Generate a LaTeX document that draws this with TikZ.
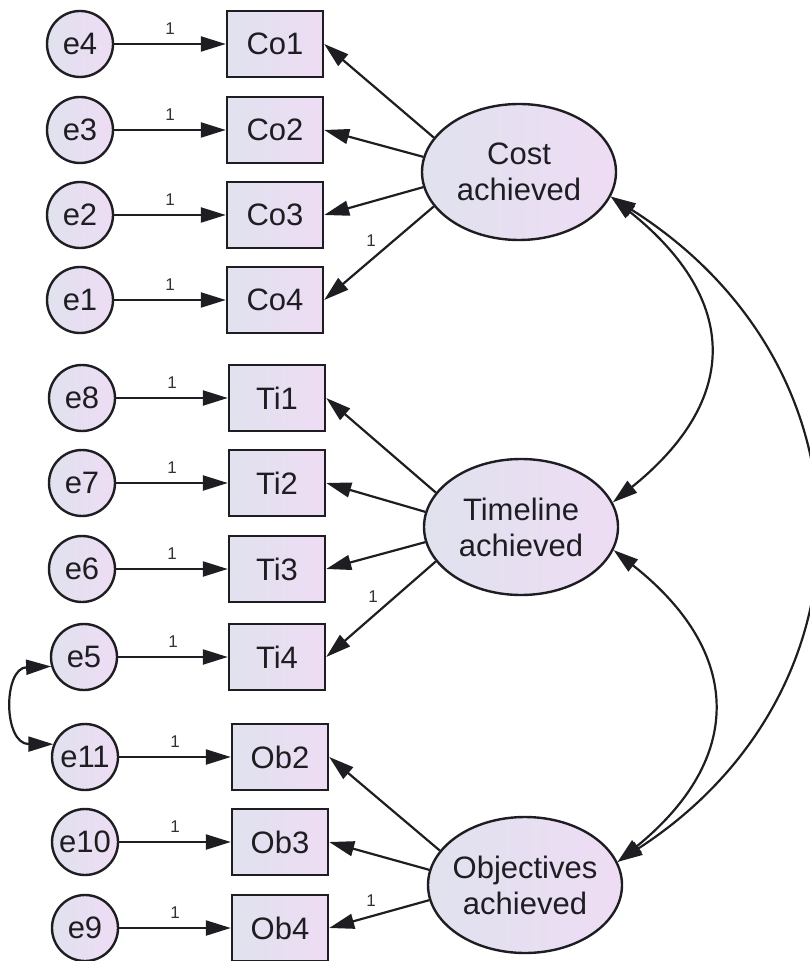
\documentclass[tikz,border=0pt]{standalone}
\usepackage{fontspec}
\setmainfont{Liberation Sans}
\usetikzlibrary{shapes.geometric,arrows.meta}
\definecolor{fillL}{RGB}{224,226,238}
\definecolor{fillR}{RGB}{238,220,244}
\definecolor{ink}{RGB}{30,30,34}
\definecolor{wtcol}{RGB}{50,50,50}

\begin{document}
\begin{tikzpicture}[x=0.5pt,y=-0.5pt,
  base/.style={draw=ink, line width=1.2pt, left color=fillL, right color=fillR,
    text=ink, font=\fontsize{15.5}{18}\selectfont},
  errvar/.style={base, circle, minimum size=33pt, inner sep=0pt},
  obsvar/.style={base, rectangle, minimum width=48pt, minimum height=33pt, inner sep=0pt},
  latent/.style={base, ellipse, minimum width=97pt, minimum height=68pt, inner sep=0pt},
  lattext/.style={align=center, text=ink, inner sep=0pt,
    font=\fontsize{15.5}{18}\selectfont},
  regpath/.style={draw=ink, line width=1.1pt, -{Triangle[length=12.5pt,width=7.5pt]}},
  covar/.style={draw=ink, line width=1.1pt,
    {Triangle[length=12.5pt,width=7.5pt]}-{Triangle[length=12.5pt,width=7.5pt]}},
  wt/.style={font=\fontsize{8.5}{9}\selectfont, text=wtcol, inner sep=0pt},
  wtup/.style={wt, midway, above=4pt},
  wtload/.style={wt, pos=0.5, xshift=-4pt, yshift=6.5pt}
]
\useasboundingbox (0,0) rectangle (809,961);

% error terms
\node[errvar] (e4)  at (80,44)  {e4};
\node[errvar] (e3)  at (80,130) {e3};
\node[errvar] (e2)  at (80,215) {e2};
\node[errvar] (e1)  at (80,300) {e1};
\node[errvar] (e8)  at (82,398) {e8};
\node[errvar] (e7)  at (82,483) {e7};
\node[errvar] (e6)  at (82,569) {e6};
\node[errvar] (e5)  at (84,657) {e5};
\node[errvar] (e11) at (85,757) {e11};
\node[errvar] (e10) at (85,842) {e10};
\node[errvar] (e9)  at (85,928) {e9};

% observed indicators
\node[obsvar] (co1) at (275,44)  {Co1};
\node[obsvar] (co2) at (275,130) {Co2};
\node[obsvar] (co3) at (275,215) {Co3};
\node[obsvar] (co4) at (275,300) {Co4};
\node[obsvar] (ti1) at (277,398) {Ti1};
\node[obsvar] (ti2) at (277,483) {Ti2};
\node[obsvar] (ti3) at (277,569) {Ti3};
\node[obsvar] (ti4) at (277,657) {Ti4};
\node[obsvar] (ob2) at (280,757) {Ob2};
\node[obsvar] (ob3) at (280,842) {Ob3};
\node[obsvar] (ob4) at (280,928) {Ob4};

% latent factors
\node[latent, label={[lattext]center:Cost\\achieved}] (cost) at (519,172) {};
\node[latent, label={[lattext]center:Timeline\\achieved}] (time) at (521,527) {};
\node[latent, label={[lattext]center:Objectives\\achieved}] (obj) at (525,885) {};

% error paths
\draw[regpath] (e4)  -- node[wtup]{1} (co1);
\draw[regpath] (e3)  -- node[wtup]{1} (co2);
\draw[regpath] (e2)  -- node[wtup]{1} (co3);
\draw[regpath] (e1)  -- node[wtup]{1} (co4);
\draw[regpath] (e8)  -- node[wtup]{1} (ti1);
\draw[regpath] (e7)  -- node[wtup]{1} (ti2);
\draw[regpath] (e6)  -- node[wtup]{1} (ti3);
\draw[regpath] (e5)  -- node[wtup]{1} (ti4);
\draw[regpath] (e11) -- node[wtup]{1} (ob2);
\draw[regpath] (e10) -- node[wtup]{1} (ob3);
\draw[regpath] (e9)  -- node[wtup]{1} (ob4);

% factor loadings
\draw[regpath] (cost.158) -- (co1.east);
\draw[regpath] (cost.171) -- (co2.east);
\draw[regpath] (cost.189) -- (co3.east);
\draw[regpath] (cost.202) -- node[wtload]{1} (co4.east);
\draw[regpath] (time.158) -- (ti1.east);
\draw[regpath] (time.171) -- (ti2.east);
\draw[regpath] (time.189) -- (ti3.east);
\draw[regpath] (time.202) -- node[wtload]{1} (ti4.east);
\draw[regpath] (obj.158) -- (ob2.east);
\draw[regpath] (obj.171) -- (ob3.east);
\draw[regpath] (obj.189) -- node[wtload]{1} (ob4.east);

% covariances
\draw[covar] (cost.-15) .. controls (740,300) and (740,400) .. (time.15);
\draw[covar] (time.-14) .. controls (744,653) and (744,759) .. (obj.14);
\draw[covar] (cost.-15) .. controls (880,367) and (880,692) .. (obj.14);
\draw[covar] (e5.196) .. controls (3,668) and (3,744) .. (e11.158);
\end{tikzpicture}
\end{document}
